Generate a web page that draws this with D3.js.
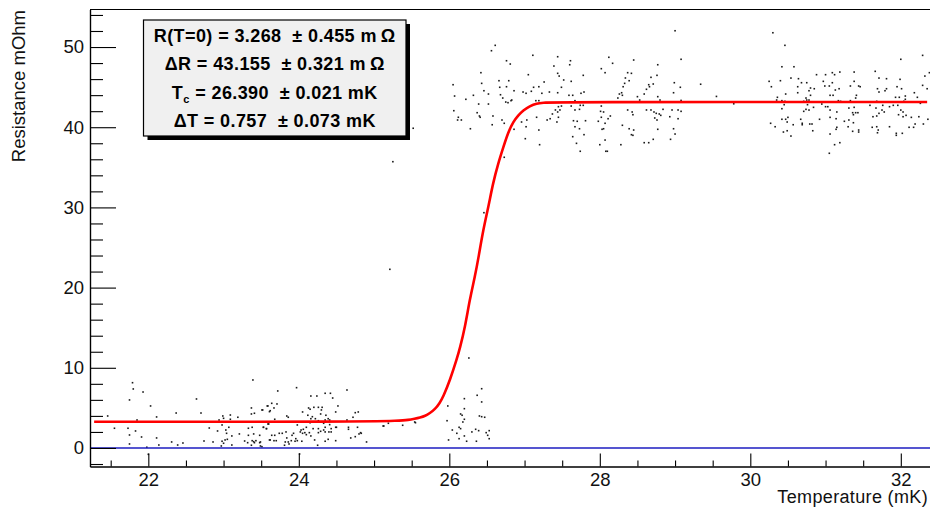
<!DOCTYPE html>
<html>
<head>
<meta charset="utf-8">
<script src="https://cdn.jsdelivr.net/npm/d3@7"></script>
<style>
  body { margin: 0; background: #fff; }
  svg { display: block; font-family: 'Liberation Sans', Arial, sans-serif; }
</style>
</head>
<body>
<svg id="chart" width="930" height="508"></svg>
<script>
// axis ticks
const xMajorTicks = [22, 24, 26, 28, 30, 32]
const xMinorTicks = [21.5, 22.5, 23, 23.5, 24.5, 25, 25.5, 26.5, 27, 27.5, 28.5, 29, 29.5, 30.5, 31, 31.5, 32.5]
const yMajorTicks = [0, 10, 20, 30, 40, 50]
const yMinorTicks = [-2, 2, 4, 6, 8, 12, 14, 16, 18, 22, 24, 26, 28, 32, 34, 36, 38, 42, 44, 46, 48, 52, 54]

// fit curve
const fitT = [21.28, 24.81, 25.345, 25.455, 25.54, 25.61, 25.68, 25.74, 25.81, 25.87, 25.92, 26.01, 26.10, 26.14, 26.21, 26.27, 26.34, 26.39, 26.45, 26.52, 26.58, 26.65, 26.72, 26.78, 26.85, 26.92, 26.98, 27.07, 27.16, 27.25, 27.36, 32.35]
const fitR = [3.27, 3.27, 3.40, 3.49, 3.65, 3.80, 3.99, 4.33, 4.83, 5.57, 6.40, 8.48, 11.1, 12.4, 15.12, 18.45, 21.36, 23.85, 27.18, 30.09, 33.00, 35.50, 37.57, 39.3, 40.7, 41.5, 42.1, 42.64, 42.98, 43.06, 43.14, 43.14]

// stats box
const statsLines = [
  [{t: 'R(T=0) = 3.268  \u00b1 0.455 m\u2009\u03a9'}],
  [{t: '\u0394R = 43.155  \u00b1 0.321 m\u2009\u03a9'}],
  [{t: 'T'}, {t: 'c', sub: true}, {t: ' = 26.390  \u00b1 0.021 mK'}],
  [{t: '\u0394T = 0.757  \u00b1 0.073 mK'}]
]

// measured points [T (mK), R (mOhm)]
const lowA = [[21.79,8.14],[21.80,7.36],[21.93,6.98],[21.75,5.99],[22.03,5.24],[23.39,8.48],[22.64,6.11],[22.37,4.36],[22.70,4.36],[21.46,3.99],[21.85,3.49],[22.11,3.87],[21.55,2.46],[21.73,2.46],[21.83,2.12],[21.75,1.62],[21.91,1.37],[22.11,1.25],[21.75,0.50],[21.98,0.09],[22.00,-0.79],[22.31,0.75],[22.46,0.62],[22.39,0.37],[22.14,0.37],[22.74,0.87],[22.86,0.75],[22.81,2.49],[22.92,2.12],[22.99,3.99],[23.00,3.70],[22.94,3.49],[23.09,4.11],[23.09,3.58],[23.19,3.83],[22.98,2.87],[23.03,2.24],[23.07,2.58],[23.04,1.83],[23.11,1.50],[23.05,1.08],[23.02,1.00],[22.98,0.84],[23.00,0.59],[22.97,0.25],[23.11,0.37],[23.21,1.75],[23.28,0.87],[23.32,0.66],[23.33,1.58],[23.33,2.46],[23.38,2.58],[23.40,1.75],[23.38,0.91],[23.40,0.79],[23.41,0.66],[23.43,0.91],[23.37,0.34],[23.48,0.66],[23.49,0.25],[23.53,2.58],[23.57,2.41],[23.48,1.58],[23.37,4.99],[23.41,4.33],[23.37,4.24],[23.51,4.74],[23.59,5.24],[23.61,4.53],[23.59,2.99],[23.61,1.00]]
const lowB = [[23.97,7.52],[23.72,7.11],[24.16,6.48],[24.24,6.48],[24.35,6.82],[24.42,6.82],[24.45,6.23],[24.64,7.23],[23.64,5.57],[23.71,5.49],[23.58,5.24],[23.67,4.99],[23.62,4.65],[23.52,4.74],[24.13,4.99],[24.20,5.07],[24.26,5.07],[24.31,5.07],[24.52,5.24],[24.30,4.74],[24.05,4.49],[24.29,4.24],[24.36,4.08],[24.12,4.08],[24.18,3.90],[23.84,3.99],[23.86,3.83],[24.49,4.49],[24.75,4.40],[24.79,4.49],[24.72,3.83],[23.68,3.58],[24.16,3.65],[24.22,3.65],[24.35,3.49],[24.39,3.65],[24.41,3.49],[24.33,3.08],[24.26,3.40],[24.64,3.49],[23.60,2.99],[23.53,2.58],[23.57,2.41],[23.98,2.87],[24.15,3.15],[24.41,2.91],[24.43,2.41],[24.35,2.58],[24.49,2.58],[24.50,2.58],[24.66,2.58],[24.78,2.58],[25.13,2.74],[25.19,3.08],[25.54,3.24],[24.10,2.58],[24.06,2.33],[24.03,2.24],[24.02,2.00],[24.08,1.91],[24.10,1.66],[24.14,1.91],[24.19,2.41],[24.26,2.41],[24.29,2.08],[24.33,2.24],[24.35,2.00],[24.40,2.00],[24.43,2.00],[24.26,1.91],[23.83,2.00],[23.78,1.83],[23.74,1.83],[23.93,1.83],[23.91,1.58],[23.64,1.58],[23.68,1.58],[23.67,0.91],[23.70,0.91],[23.62,1.00],[23.49,0.75],[23.84,1.25],[23.86,0.75],[23.90,0.91],[23.95,0.84],[23.98,0.91],[24.04,0.84],[23.96,1.16],[24.05,1.83],[24.16,1.50],[24.21,1.00],[24.35,0.84],[24.39,1.08],[24.49,0.91],[24.66,2.33],[24.69,1.25],[24.75,1.41],[24.80,1.75],[24.82,1.91],[24.90,0.75],[23.82,0.75],[23.81,0.34],[23.87,0.50],[23.51,0.16],[24.25,0.34],[24.01,-0.75],[24.15,4.83],[24.83,1.83],[25.38,2.83],[25.12,2.74],[25.55,3.15]]
const transition = [[25.25,35.70],[25.21,22.28],[26.46,29.34],[26.73,36.25],[25.52,39.87],[26.26,11.22],[26.43,7.39],[26.37,6.57],[26.20,6.15],[25.98,5.24],[26.20,4.90],[26.15,4.24],[26.17,4.08],[26.20,3.58],[26.18,3.24],[26.40,3.99],[26.43,3.90],[26.47,3.83],[26.43,5.74],[25.97,3.40],[26.13,2.58],[26.15,2.41],[26.04,2.24],[26.10,1.83],[26.13,1.16],[25.99,1.00],[26.20,1.50],[26.23,0.84],[26.30,2.00],[26.35,2.33],[26.39,2.16],[26.36,0.84],[26.49,1.91],[26.53,2.16],[26.51,1.58],[26.53,1.16]]
const highA = [[26.61,50.21],[26.56,49.54],[27.11,48.97],[27.44,48.79],[26.76,48.29],[26.81,47.88],[27.61,48.29],[27.60,47.79],[27.39,47.63],[26.42,46.80],[27.05,46.55],[27.44,46.72],[27.46,46.38],[27.78,46.47],[27.52,45.89],[27.62,45.72],[28.02,47.30],[28.07,46.80],[28.17,47.97],[28.12,48.72],[28.45,48.38],[28.37,46.80],[28.42,46.72],[28.34,46.14],[28.39,45.80],[28.33,45.47],[28.31,45.05],[28.77,47.79],[29.08,48.47],[29.00,52.03],[28.76,46.47],[28.68,46.22],[28.71,45.39],[28.66,45.05],[28.99,45.55],[29.07,44.98],[26.05,45.30],[26.07,43.89],[26.22,43.48],[26.32,43.98],[26.43,45.47],[26.46,44.55],[26.52,44.14],[26.66,45.80],[26.79,45.80],[26.67,44.98],[26.76,45.05],[26.86,44.55],[26.68,44.05],[26.71,43.64],[26.83,43.39],[26.78,43.06],[26.82,43.31],[26.75,43.14],[26.39,42.89],[26.52,42.89],[26.98,44.39],[27.02,44.23],[27.09,44.48],[27.12,44.98],[27.19,45.05],[27.26,45.64],[27.23,44.23],[27.33,44.39],[27.19,43.31],[27.15,43.31],[27.44,44.30],[27.49,44.98],[27.59,43.98],[27.64,43.98],[27.75,44.23],[27.79,44.39],[27.67,43.31],[27.45,42.56],[27.49,42.64],[27.41,42.15],[27.44,41.90],[27.37,41.65],[27.47,42.15],[27.62,42.64],[27.74,42.73],[27.78,42.73],[27.73,42.23],[27.67,42.15],[28.02,42.64],[28.01,41.98],[28.05,41.90],[28.14,41.40],[28.11,41.06],[28.02,41.24],[27.98,40.74],[28.07,40.49],[28.05,39.81],[28.03,39.74],[28.26,44.14],[28.24,43.64],[28.30,43.98],[28.29,44.30],[28.50,43.81],[28.59,44.14],[28.53,43.39],[28.62,44.73],[28.65,45.30],[28.77,43.81],[28.80,43.39],[28.37,42.15],[28.43,41.90],[28.44,41.56],[28.62,42.15],[28.68,42.15],[28.72,41.90],[28.75,41.73],[28.79,41.65],[28.73,41.15],[28.76,40.90],[28.81,41.48],[28.84,42.23],[28.93,41.31],[28.96,42.15],[29.04,42.15],[29.08,41.98],[28.98,39.81],[29.00,39.15],[28.94,38.49],[28.77,39.74],[28.71,38.49],[28.65,38.07],[28.59,38.07],[28.45,39.65],[28.42,39.07],[28.44,38.99],[28.39,39.81],[28.30,40.24],[28.28,37.82],[28.10,37.00],[28.08,37.00],[28.00,37.82],[28.07,38.40],[27.74,37.00],[27.69,37.99],[27.79,39.07],[27.73,39.81],[27.64,38.82],[27.67,40.06],[27.70,40.74],[27.65,40.81],[27.81,40.81],[27.45,41.24],[27.43,40.65],[27.34,41.06],[27.30,40.90],[27.16,41.24],[27.19,39.65],[27.20,37.82],[27.03,40.90],[27.02,40.06],[27.01,38.57],[26.96,40.65],[26.86,39.74],[26.73,40.49],[26.70,40.90],[26.57,40.31],[26.58,41.40],[26.12,41.24],[26.11,40.90],[26.16,40.90],[26.28,39.81],[26.40,41.40],[26.41,41.24],[26.37,41.81],[26.06,42.06],[28.98,44.30],[29.08,43.34],[29.04,41.06],[29.34,45.36],[29.55,43.84],[29.78,42.92]]
const highB = [[30.30,51.78],[30.46,50.21],[32.29,48.96],[32.00,48.47],[30.42,47.54],[30.58,47.54],[30.25,45.72],[30.28,45.05],[30.40,45.80],[30.54,46.13],[30.64,46.05],[30.68,45.55],[30.75,45.55],[30.88,46.55],[31.00,46.55],[31.09,46.80],[31.19,46.88],[31.12,46.55],[30.97,45.72],[31.09,45.55],[31.05,45.14],[30.99,45.14],[31.38,46.88],[31.38,45.72],[31.33,45.14],[31.44,45.14],[31.46,45.05],[31.66,46.97],[31.71,46.13],[31.81,46.05],[31.99,45.97],[32.32,46.38],[32.38,46.80],[32.29,45.22],[32.35,44.80],[31.95,45.05],[31.81,44.80],[31.69,44.80],[31.71,44.39],[31.79,44.55],[32.01,44.80],[30.63,45.05],[30.80,44.89],[30.85,44.80],[30.78,44.55],[31.18,44.80],[31.13,44.64],[30.36,43.73],[30.35,43.39],[30.47,44.14],[30.63,44.30],[30.80,43.98],[30.74,43.64],[30.75,43.39],[30.78,43.39],[30.71,43.23],[30.46,43.23],[30.42,43.31],[30.95,42.89],[31.06,43.98],[31.10,43.98],[31.17,43.31],[31.20,43.23],[31.33,43.31],[31.41,43.98],[31.40,43.64],[31.68,43.23],[31.93,43.73],[31.98,43.73],[32.06,43.89],[32.06,43.48],[32.04,43.23],[32.18,44.30],[32.22,43.73],[32.26,42.98],[30.45,42.81],[30.42,42.31],[30.76,42.81],[30.84,42.48],[30.74,42.23],[30.71,41.98],[30.78,42.14],[31.00,42.56],[31.03,42.56],[31.06,42.14],[31.15,41.90],[31.31,42.39],[31.38,42.48],[31.36,41.81],[31.40,41.81],[31.43,41.81],[31.37,41.56],[31.59,42.73],[31.67,42.39],[31.76,42.73],[31.75,42.14],[31.78,41.90],[31.71,41.73],[31.68,41.40],[31.63,41.31],[31.85,42.56],[31.90,42.73],[31.96,42.73],[32.00,42.14],[32.03,41.90],[31.97,41.56],[32.03,41.31],[32.07,41.48],[32.14,41.23],[32.24,41.31],[32.36,40.99],[30.42,40.99],[30.47,40.99],[30.50,41.23],[30.67,40.99],[30.92,40.99],[31.06,41.23],[31.14,41.06],[31.31,40.90],[31.25,40.74],[31.37,40.56],[30.27,40.49],[30.33,40.06],[30.49,40.65],[30.57,40.31],[30.69,40.49],[30.69,40.31],[30.79,40.40],[30.82,40.40],[30.83,39.56],[31.15,39.99],[31.14,39.74],[31.30,40.06],[31.44,39.65],[31.44,39.40],[31.36,39.49],[31.68,40.06],[31.70,39.65],[31.69,39.31],[31.62,39.99],[31.85,40.06],[31.94,39.24],[31.94,38.99],[32.02,39.24],[32.11,39.99],[32.17,39.99],[32.19,40.40],[32.30,40.40],[30.44,39.40],[30.49,39.56],[30.54,38.90],[31.06,39.15],[31.12,37.82],[31.19,38.07],[31.05,36.75]]

const svg = d3.select('#chart')
const frameLeft = 90, frameRight = 930, frameTop = 9.5, frameBottom = 466.5

const x = d3.scaleLinear().domain([21.225, 32.388]).range([frameLeft, frameRight])
const y = d3.scaleLinear().domain([-2.31, 54.68]).range([frameBottom, frameTop])

// frame top line
svg.append('line').attr('x1', frameLeft).attr('x2', frameRight).attr('y1', frameTop).attr('y2', frameTop)
  .attr('stroke', '#000').attr('stroke-width', 1)

// dots
const allDots = [].concat(lowA, lowB, transition, highA, highB)
svg.append('g').selectAll('rect').data(allDots).enter().append('rect')
  .attr('x', d => x(d[0]) - 0.8)
  .attr('y', d => y(d[1]) - 0.8)
  .attr('width', 1.6).attr('height', 1.6)
  .attr('fill', '#1a1a1a')

// zero line
svg.append('line').attr('x1', x(21.225)).attr('x2', x(32.388)).attr('y1', y(0)).attr('y2', y(0))
  .attr('stroke', '#1c1cc0').attr('stroke-width', 1.3)

// fit curve
const fitLine = d3.line().x((d, i) => x(fitT[i])).y(d => y(d)).curve(d3.curveBasis)
svg.append('path').datum(fitR).attr('d', fitLine)
  .attr('fill', 'none').attr('stroke', '#ff0000').attr('stroke-width', 2.6)

// axes
const fontSize = 18.5
const xMinor = d3.axisBottom(x).tickValues(xMinorTicks).tickSize(-6).tickSizeOuter(0).tickFormat('')
const xMajor = d3.axisBottom(x).tickValues(xMajorTicks).tickSize(-13).tickSizeOuter(0).tickPadding(6.5).tickFormat(d3.format('d'))
const yMinor = d3.axisLeft(y).tickValues(yMinorTicks).tickSize(-13).tickSizeOuter(0).tickFormat('')
const yMajor = d3.axisLeft(y).tickValues(yMajorTicks).tickSize(-26).tickSizeOuter(0).tickPadding(6).tickFormat(d3.format('d'))

const axes = [
  svg.append('g').attr('transform', `translate(0,${frameBottom})`).call(xMinor),
  svg.append('g').attr('transform', `translate(0,${frameBottom})`).call(xMajor),
  svg.append('g').attr('transform', `translate(${frameLeft},0)`).call(yMinor),
  svg.append('g').attr('transform', `translate(${frameLeft},0)`).call(yMajor)
]
axes.forEach(g => {
  g.selectAll('path.domain').attr('stroke', '#000').attr('stroke-width', 1.2)
  g.selectAll('.tick line').attr('stroke', '#000').attr('stroke-width', 1.1)
  g.selectAll('.tick text').attr('fill', '#111').style('font-size', fontSize + 'px')
    .style('font-family', "'Liberation Sans', Arial, sans-serif")
})

// axis titles
svg.append('text').text('Temperature (mK)')
  .attr('x', 928).attr('y', 503).attr('text-anchor', 'end')
  .style('font-size', '18px').style('letter-spacing', '0.35px').attr('fill', '#111')
svg.append('text').text('Resistance mOhm')
  .attr('transform', 'translate(24.5,10) rotate(-90)').attr('text-anchor', 'end')
  .style('font-size', fontSize + 'px').attr('fill', '#111')

// stats box
const box = {x: 143.5, y: 20, w: 262.5, h: 116}
svg.append('rect').attr('x', box.x + 4).attr('y', box.y + 4).attr('width', box.w).attr('height', box.h).attr('fill', '#000')
svg.append('rect').attr('x', box.x).attr('y', box.y).attr('width', box.w).attr('height', box.h)
  .attr('fill', '#f0f0f0').attr('stroke', '#000').attr('stroke-width', 1.2)

const baselines = [41.5, 70, 98.5, 127]
statsLines.forEach((parts, i) => {
  const t = svg.append('text')
    .attr('x', box.x + box.w / 2).attr('y', baselines[i])
    .attr('text-anchor', 'middle')
    .style('font-size', '18px').style('font-weight', 'bold').style('white-space', 'pre')
    .style('letter-spacing', '0.4px')
    .attr('fill', '#000')
  parts.forEach(p => {
    const s = t.append('tspan').text(p.t)
    if (p.sub) s.attr('dy', 4).style('font-size', '11px')
    else if (s.node().previousSibling) s.attr('dy', -4)
  })
})
</script>
</body>
</html>
